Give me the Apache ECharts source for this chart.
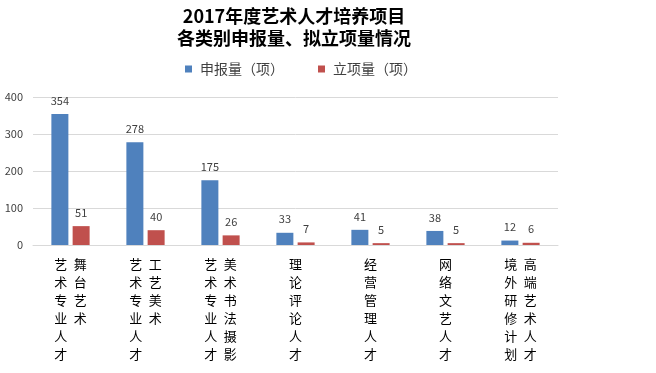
<!DOCTYPE html>
<html><head><meta charset="utf-8">
<script src="https://cdn.jsdelivr.net/npm/echarts@6/dist/echarts.min.js"></script>
<style>html,body{margin:0;padding:0;background:#fff}#c{width:656px;height:373px}</style>
</head><body><div id="c"></div>
<script>
var titleLines = ["2017年度艺术人才培养项目", "各类别申报量、拟立项量情况"];
var categories = ["舞台艺术艺术专业人才","工艺美术艺术专业人才","美术书法摄影艺术专业人才","理论评论人才","经营管理人才","网络文艺人才","高端艺术人才境外研修计划"];
var seriesNames = ["申报量（项）", "立项量（项）"];
var applied = [354, 278, 175, 33, 41, 38, 12];
var approved = [51, 40, 26, 7, 5, 5, 6];
var yTicks = [0, 100, 200, 300, 400];

function verticalLabel(name) {
  var left = name.slice(-6);
  var right = name.slice(0, name.length - 6);
  var lines = [];
  for (var i = 0; i < left.length; i++) {
    if (right.length) lines.push(left[i] + '\u2002' + (right[i] || '\u3000'));
    else lines.push(left[i]);
  }
  return lines.join('\n');
}

var chart = echarts.init(document.getElementById('c'));
var font = '"Noto Sans CJK SC", "Noto Sans", sans-serif';
chart.setOption({
  animation: false,
  backgroundColor: '#fff',
  title: {
    text: titleLines.join('\n'),
    left: 289, top: 0, textAlign: 'center',
    textStyle: {fontSize: 18, fontWeight: 'bold', color: '#000', fontFamily: font, lineHeight: 22}
  },
  legend: {
    data: seriesNames,
    left: 180, top: 57,
    itemWidth: 7, itemHeight: 7, itemGap: 34,
    icon: 'rect',
    textStyle: {fontSize: 14, color: '#404040', fontFamily: font, padding: [0,0,0,3]}
  },
  grid: {left: 33, right: 98, top: 97, bottom: 128, containLabel: false},
  xAxis: {
    type: 'category', data: categories,
    axisLine: {lineStyle: {color: '#d9d9d9'}},
    axisTick: {show: false},
    axisLabel: {
      interval: 0, margin: 10, fontSize: 13, lineHeight: 18, color: '#000', fontFamily: font,
      formatter: verticalLabel
    }
  },
  yAxis: {
    type: 'value', min: yTicks[0], max: yTicks[yTicks.length-1], interval: 100,
    axisLine: {show: false}, axisTick: {show: false},
    splitLine: {lineStyle: {color: '#d9d9d9'}},
    axisLabel: {fontSize: 11, color: '#404040', margin: 10, fontFamily: font}
  },
  series: [
    {name: seriesNames[0], type: 'bar', data: applied, barWidth: 17, barGap: '25%',
     itemStyle: {color: '#4F81BD'},
     label: {show: true, position: 'top', distance: 8, fontSize: 11, color: '#404040', fontFamily: font}},
    {name: seriesNames[1], type: 'bar', data: approved, barWidth: 17,
     itemStyle: {color: '#C0504D'},
     label: {show: true, position: 'top', distance: 8, fontSize: 11, color: '#404040', fontFamily: font}}
  ]
});
</script></body></html>
